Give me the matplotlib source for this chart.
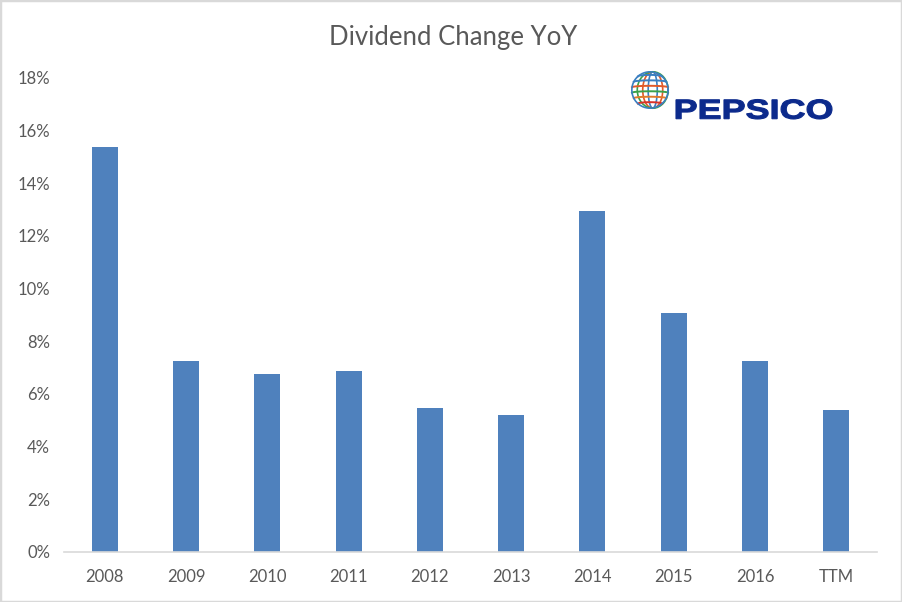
import numpy as np
import matplotlib.pyplot as plt
from matplotlib.patches import Ellipse, Rectangle, PathPatch
from matplotlib.textpath import TextPath
from matplotlib.font_manager import FontProperties
from matplotlib.transforms import Affine2D, IdentityTransform
from matplotlib.ticker import PercentFormatter

# Data
years = ['2008', '2009', '2010', '2011', '2012', '2013', '2014', '2015', '2016', 'TTM']
div_change = [15.38, 7.25, 6.76, 6.87, 5.47, 5.20, 12.95, 9.08, 7.25, 5.39]

BAR_COLOR = '#4f81bd'
TEXT_COLOR = '#595959'

plt.rcParams['font.family'] = ['Lato', 'DejaVu Sans']

fig = plt.figure(figsize=(9.02, 6.02), dpi=100)
W, H = 902, 602

# light grey frame around the chart area
fig.patches.append(Rectangle((0, 0), 1, 1, transform=fig.transFigure,
                             fill=False, edgecolor='#d9d9d9', linewidth=2.5))

ax = fig.add_axes([64 / W, (H - 552) / H, (877 - 64) / W, (552 - 78) / H])
x = np.arange(len(years))
ax.bar(x, div_change, width=0.32, color=BAR_COLOR)

ax.set_xlim(-0.5, len(years) - 0.5)
ax.set_ylim(0, 18)
ax.set_yticks(np.arange(0, 19, 2))
ax.yaxis.set_major_formatter(PercentFormatter(decimals=0))
ax.set_xticks(x)
ax.set_xticklabels(years)

for s in ['top', 'right', 'left']:
    ax.spines[s].set_visible(False)
ax.spines['bottom'].set_color('#d9d9d9')
ax.spines['bottom'].set_linewidth(1.2)
ax.tick_params(axis='both', length=0, labelsize=12, colors=TEXT_COLOR)
ax.tick_params(axis='y', pad=10)
ax.tick_params(axis='x', pad=12)

fig.text(453 / W, 1 - 37 / H, 'Dividend Change YoY', ha='center', va='center',
         fontsize=18.5, color=TEXT_COLOR)

# PepsiCo logo: simple globe + wordmark
gax = fig.add_axes([630 / W, 1 - 110 / H, 40 / W, 40 / H])
gax.set_xlim(-1.1, 1.1)
gax.set_ylim(-1.1, 1.1)
gax.set_aspect('equal')
gax.axis('off')
t = np.linspace(0, 2 * np.pi, 200)
band_colors = ['#3a7fc1', '#3a7fc1', '#e05a2a', '#3aa14a', '#e07a2a', '#d8332a']
lats = [0.75, 0.45, 0.15, -0.15, -0.45, -0.75]
for lat, c in zip(lats, band_colors):
    half = np.sqrt(max(1 - lat ** 2, 0))
    xs = np.linspace(-half, half, 50)
    gax.plot(xs, lat + 0.08 * np.sqrt(np.clip(1 - (xs / half) ** 2, 0, 1)),
             color=c, lw=1.4)
for k, c in zip([0.25, 0.55, 0.85], ['#3a7fc1', '#e05a2a', '#3aa14a']):
    gax.add_patch(Ellipse((0.15, 0), 2 * k, 2, fill=False, edgecolor=c, lw=1.2))
gax.plot(np.cos(t), np.sin(t), color='#3a7fc1', lw=1.2)

# wide, heavy wordmark: text path stretched to the logo box
tp = TextPath((0, 0), 'PEPSICO', size=20,
              prop=FontProperties(family='Liberation Sans', weight='bold'))
bb = tp.get_extents()
x0, x1, y_top, y_bot = 676, 832, 99.5, 119
sx = (x1 - x0) / bb.width
sy = (y_bot - y_top) / bb.height
tr = (Affine2D().translate(-bb.x0, -bb.y0).scale(sx, sy)
      .translate(x0, H - y_bot))
fig.patches.append(PathPatch(tr.transform_path(tp), transform=IdentityTransform(),
                             facecolor='#0c2a8c', edgecolor='#0c2a8c', lw=0.8))

fig.savefig('out.png', dpi=100)
